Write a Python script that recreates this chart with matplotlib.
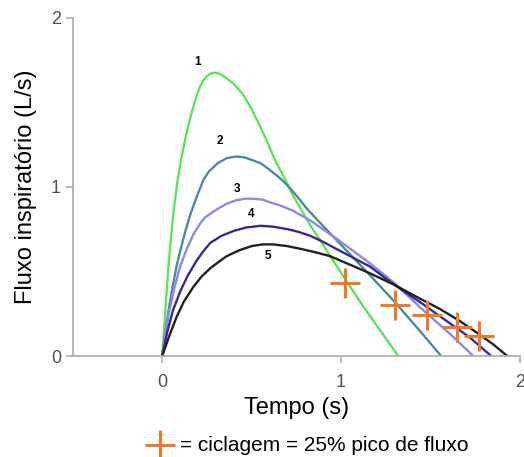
import matplotlib
matplotlib.use("Agg")
import matplotlib.pyplot as plt

plt.rcParams["font.family"] = ["Liberation Sans", "DejaVu Sans"]

# flow curves (time in s, flow in L/s)
t1 = [0, 0.02, 0.035, 0.05, 0.065, 0.085, 0.105, 0.13, 0.15, 0.17, 0.19, 0.21, 0.23, 0.25, 0.27, 0.296,
      0.32, 0.35, 0.40, 0.45, 0.50, 0.547, 0.59, 0.63, 0.68, 0.726, 0.78, 0.83, 0.88, 0.94, 1.02, 1.12, 1.22, 1.32]
y1 = [0, 0.31, 0.53, 0.71, 0.87, 1.03, 1.16, 1.29, 1.38, 1.46, 1.53, 1.59, 1.63, 1.655, 1.67, 1.675,
      1.67, 1.65, 1.61, 1.55, 1.46, 1.36, 1.26, 1.16, 1.06, 0.96, 0.86, 0.77, 0.69, 0.59, 0.46, 0.30, 0.15, 0]

t2 = [0, 0.02, 0.04, 0.06, 0.08, 0.10, 0.13, 0.155, 0.175, 0.20, 0.23, 0.26, 0.31, 0.36, 0.41, 0.46,
      0.50, 0.55, 0.59, 0.65, 0.70, 0.75, 0.81, 0.89, 0.98, 1.07, 1.16, 1.30, 1.44, 1.56]
y2 = [0, 0.16, 0.30, 0.42, 0.53, 0.62, 0.74, 0.83, 0.89, 0.96, 1.04, 1.09, 1.14, 1.17, 1.18, 1.175,
      1.16, 1.14, 1.11, 1.06, 1.01, 0.95, 0.87, 0.78, 0.68, 0.58, 0.48, 0.32, 0.15, 0]

t3 = [0, 0.02, 0.04, 0.07, 0.10, 0.14, 0.175, 0.21, 0.24, 0.28, 0.31, 0.36, 0.41, 0.46, 0.51, 0.56,
      0.60, 0.66, 0.73, 0.83, 0.98, 1.07, 1.16, 1.30, 1.44, 1.60, 1.74]
y3 = [0, 0.15, 0.27, 0.41, 0.53, 0.64, 0.72, 0.78, 0.82, 0.85, 0.87, 0.90, 0.92, 0.93, 0.93, 0.925,
      0.91, 0.89, 0.86, 0.80, 0.69, 0.62, 0.55, 0.43, 0.29, 0.14, 0]

t4 = [0, 0.03, 0.06, 0.10, 0.14, 0.19, 0.23, 0.27, 0.33, 0.40, 0.47, 0.55, 0.62, 0.70, 0.76, 0.83,
      0.90, 0.98, 1.07, 1.16, 1.30, 1.44, 1.60, 1.72, 1.84]
y4 = [0, 0.15, 0.27, 0.38, 0.47, 0.56, 0.62, 0.67, 0.71, 0.74, 0.76, 0.77, 0.765, 0.75, 0.735, 0.71,
      0.675, 0.63, 0.58, 0.53, 0.42, 0.32, 0.20, 0.11, 0]

t5 = [0, 0.04, 0.08, 0.12, 0.175, 0.22, 0.27, 0.32, 0.36, 0.43, 0.50, 0.56, 0.62, 0.70, 0.79, 0.87,
      0.94, 1.05, 1.16, 1.30, 1.44, 1.55, 1.66, 1.77, 1.85, 1.93]
y5 = [0, 0.12, 0.23, 0.32, 0.41, 0.47, 0.52, 0.56, 0.59, 0.625, 0.65, 0.66, 0.66, 0.65, 0.63, 0.61,
      0.59, 0.54, 0.49, 0.42, 0.34, 0.28, 0.21, 0.13, 0.07, 0]

# cycling points (25% of peak flow)
cyc_t = [1.02, 1.30, 1.48, 1.65, 1.77]
cyc_y = [0.43, 0.30, 0.24, 0.17, 0.12]

curve_labels = ["1", "2", "3", "4", "5"]
label_x = [0.20, 0.32, 0.42, 0.50, 0.59]
label_y = [1.74, 1.27, 0.99, 0.84, 0.59]

colors = ["#5fe35a", "#4a8c9a", "#8a8ae6", "#3a2a8e", "#222222"]
orange = "#f07a2a"

fig = plt.figure(figsize=(5.24, 4.57), dpi=100)
ax = fig.add_axes([0.139, 0.221, 0.853, 0.740])

for t, y, c in zip([t1, t2, t3, t4, t5], [y1, y2, y3, y4, y5], colors):
    ax.plot(t, y, color=c, lw=1.7, solid_joinstyle="round", solid_capstyle="round")

ax.plot(cyc_t, cyc_y, ls="none", marker="+", ms=22, mew=2.2, color=orange)

for lab, x, y in zip(curve_labels, label_x, label_y):
    ax.text(x, y, lab, fontsize=8.5, fontweight="bold", ha="center", va="center")

ax.set_xlim(-0.5, 2.0)
ax.set_ylim(0, 2.0)
ax.set_xticks([0, 1, 2])
ax.set_yticks([0, 1, 2])
for s in ["top", "right"]:
    ax.spines[s].set_visible(False)
for s in ["left", "bottom"]:
    ax.spines[s].set_color("#b0b0b0")
    ax.spines[s].set_linewidth(1.3)
ax.tick_params(colors="#b0b0b0", labelcolor="#505050", labelsize=13, length=5, width=1.2)
ax.tick_params(axis="x", pad=8)

ax.set_xlabel("Tempo (s)", fontsize=17, labelpad=4)
ax.set_ylabel("Fluxo inspiratório (L/s)", fontsize=17, labelpad=10)

# legend line under the chart
ax.plot([0.305], [0.026], transform=fig.transFigure, clip_on=False,
        marker="+", ms=22, mew=2.2, color=orange)
fig.text(0.344, 0.026, "= ciclagem = 25% pico de fluxo", fontsize=15, va="center", ha="left")

fig.savefig("out.png", dpi=100)
